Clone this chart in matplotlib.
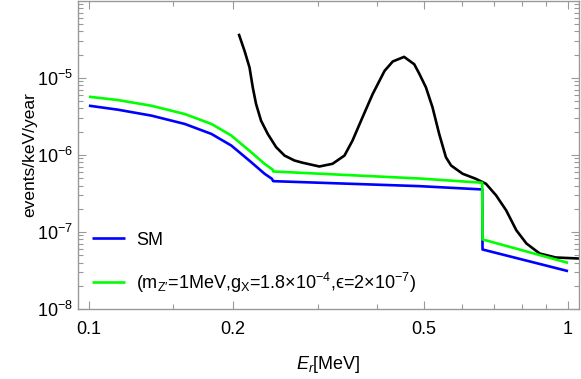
import matplotlib
matplotlib.use("Agg")
import matplotlib.pyplot as plt
from matplotlib.ticker import FixedLocator, NullFormatter, LogLocator, LogFormatterSciNotation

plt.rcParams['font.family'] = ['Liberation Sans', 'DejaVu Sans']
plt.rcParams['mathtext.fontset'] = 'custom'
plt.rcParams['mathtext.rm'] = 'Liberation Sans'
plt.rcParams['mathtext.it'] = 'Liberation Sans:italic'
plt.rcParams['mathtext.default'] = 'regular'

# SM spectrum (blue)
E_sm = [0.1, 0.1149, 0.1351, 0.1585, 0.1802, 0.1983, 0.2182, 0.2326, 0.2409,
        0.2425, 0.489, 0.662, 0.663, 1.0]
y_sm = [4.35e-6, 3.86e-6, 3.23e-6, 2.52e-6, 1.87e-6, 1.32e-6, 8.03e-7, 5.69e-7,
        4.90e-7, 4.56e-7, 3.93e-7, 3.56e-7, 5.92e-8, 3.1e-8]

# SM + Z' (green)
E_zp = [0.1, 0.1149, 0.1351, 0.1585, 0.1802, 0.1983, 0.2182, 0.2326, 0.2421,
        0.2425, 0.489, 0.662, 0.663, 1.0]
y_zp = [5.68e-6, 5.15e-6, 4.34e-6, 3.39e-6, 2.52e-6, 1.78e-6, 1.08e-6, 7.65e-7,
        6.40e-7, 6.09e-7, 4.94e-7, 4.35e-7, 8.0e-8, 3.97e-8]

# background (black)
E_bg = [0.2054, 0.2113, 0.2164, 0.2198, 0.2233, 0.2287, 0.2362, 0.2459, 0.2560,
        0.2686, 0.2795, 0.3027, 0.3224, 0.3415, 0.3549, 0.3724, 0.3910, 0.4140,
        0.4307, 0.4548, 0.4775, 0.4889, 0.5052, 0.5214, 0.5383, 0.5560, 0.5700,
        0.6025, 0.6415, 0.6740, 0.7077, 0.7430, 0.7800, 0.8189, 0.8724, 0.9427,
        1.054]
y_bg = [3.73e-5, 2.23e-5, 1.36e-5, 7.5e-6, 4.57e-6, 2.78e-6, 1.87e-6, 1.26e-6,
        9.8e-7, 8.45e-7, 7.9e-7, 7.07e-7, 7.66e-7, 9.8e-7, 1.53e-6, 3.07e-6,
        6.15e-6, 1.23e-5, 1.63e-5, 1.87e-5, 1.50e-5, 1.14e-5, 7.5e-6, 4.13e-6,
        1.87e-6, 9.33e-7, 7.28e-7, 5.69e-7, 4.9e-7, 4.22e-7, 2.98e-7, 1.9e-7,
        1.05e-7, 7.07e-8, 5.25e-8, 4.66e-8, 4.52e-8]

x_major = [0.1, 0.2, 0.5, 1.0]
x_major_labels = ['0.1', '0.2', '0.5', '1']
x_minor = [0.15, 0.3, 0.4, 0.6, 0.7, 0.8, 0.9]
y_major = [1e-8, 1e-7, 1e-6, 1e-5]

fig = plt.figure(figsize=(5.81, 3.79), dpi=100)
ax = fig.add_axes([78/581, 1 - 309/379, 501/581, 309/379 - 0.002])

kw = dict(lw=1.9, solid_joinstyle='round', solid_capstyle='butt')
ax.plot(E_bg, y_bg, color='black', **kw)
ax.plot(E_sm, y_sm, color=(0, 0, 1), label='SM', **kw)
ax.plot(E_zp, y_zp, color=(0, 1, 0),
        label="($m_{Z\\prime}$=1MeV,$g_X$=1.8×10$^{-4}$,$\u03f5$=2×10$^{-7}$)", **kw)

ax.set_xscale('log')
ax.set_yscale('log')
ax.set_xlim(0.0949, 1.054)
ax.set_ylim(1e-8, 1e-4)

ax.xaxis.set_major_locator(FixedLocator(x_major))
ax.set_xticklabels(x_major_labels)
ax.xaxis.set_minor_locator(FixedLocator(x_minor))
ax.xaxis.set_minor_formatter(NullFormatter())
ax.yaxis.set_major_locator(FixedLocator(y_major))
ax.yaxis.set_major_formatter(LogFormatterSciNotation())
ax.yaxis.set_minor_locator(LogLocator(base=10, subs=range(2, 10), numticks=10))
ax.yaxis.set_minor_formatter(NullFormatter())

frame = '0.6'
for s in ax.spines.values():
    s.set_color(frame)
    s.set_linewidth(1.0)
ax.tick_params(which='both', direction='in', top=True, right=True, color=frame,
               labelsize=13, labelcolor='black')
ax.tick_params(which='major', length=6, width=0.8)
ax.tick_params(which='minor', length=3.5, width=0.8)
ax.tick_params(axis='x', which='major', pad=9)

ax.set_xlabel(r'$\mathit{E_r}$[MeV]', fontsize=13, labelpad=11)
ax.set_ylabel('events/keV/year', fontsize=12.5, labelpad=0)

ax.legend(loc='lower left', frameon=False, fontsize=13, handlelength=1.8,
          handletextpad=0.6, labelspacing=1.2, bbox_to_anchor=(0.0, 0.0),
          borderaxespad=0.4)

fig.savefig('out.png', dpi=100)
